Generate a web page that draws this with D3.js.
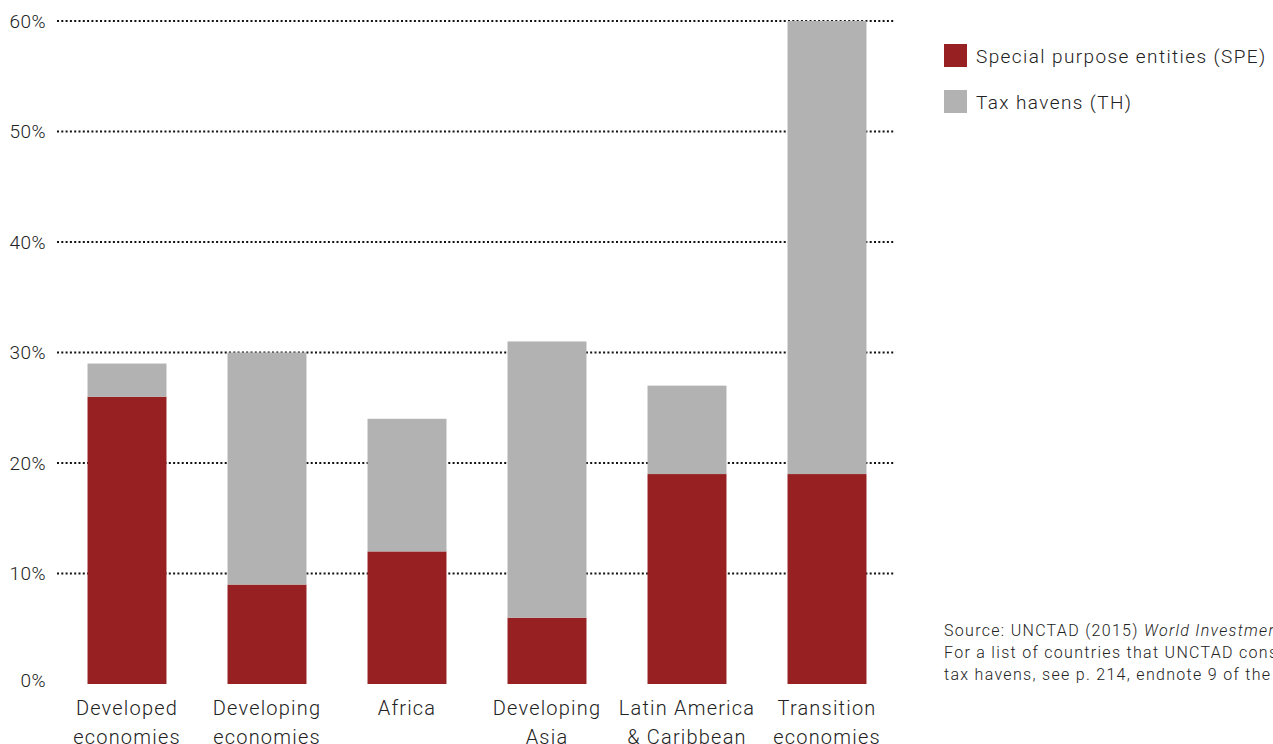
<!DOCTYPE html>
<html>
<head>
<meta charset="utf-8">
<script src="https://cdn.jsdelivr.net/npm/d3@7"></script>
<style>
  body { margin: 0; background: #fff; }
  text { font-family: Roboto, "DejaVu Sans", sans-serif; font-weight: 300; fill: #222; }
</style>
</head>
<body>
<div id="chart"></div>
<script>
const width = 1273;
const height = 744;

// data
var categories = [
  ["Developed", "economies"],
  ["Developing", "economies"],
  ["Africa"],
  ["Developing", "Asia"],
  ["Latin America", "& Caribbean"],
  ["Transition", "economies"]
];
var spe = [26, 9, 12, 6, 19, 19];
var th = [3, 21, 12, 25, 8, 41];
var yTicks = [0, 10, 20, 30, 40, 50, 60];
var seriesNames = ["Special purpose entities (SPE)", "Tax havens (TH)"];
var colors = ["#972122", "#b2b2b2"];

var rows = categories.map((c, i) => ({i: i, spe: spe[i], th: th[i]}));

var svg = d3.select("#chart").append("svg")
  .attr("width", width).attr("height", height);

var x = d3.scaleBand()
  .domain(d3.range(categories.length))
  .range([57, 897])
  .paddingInner(0.436)
  .paddingOuter(0.218);

var y = d3.scaleLinear().domain([0, 60]).range([684, 21]);

// gridlines
svg.append("g").selectAll("line")
  .data(yTicks.filter(t => t > 0))
  .enter().append("line")
  .attr("x1", 57).attr("x2", 894)
  .attr("y1", d => y(d)).attr("y2", d => y(d))
  .attr("stroke", "#111")
  .attr("stroke-width", 2)
  .attr("stroke-dasharray", "2,2.3");

// y axis labels
svg.append("g").selectAll("text")
  .data(yTicks)
  .enter().append("text")
  .attr("x", 46)
  .attr("y", d => d === 0 ? y(d) - 4 : y(d))
  .attr("dy", "0.35em")
  .attr("text-anchor", "end")
  .style("font-size", "19px")
  .style("letter-spacing", "0.5px")
  .text(d => d + "%");

// stacked bars
var stack = d3.stack().keys(["spe", "th"])(rows);

svg.append("g").selectAll("g")
  .data(stack)
  .enter().append("g")
  .attr("fill", (d, i) => colors[i])
  .selectAll("rect")
  .data(d => d)
  .enter().append("rect")
  .attr("x", d => x(d.data.i))
  .attr("width", x.bandwidth())
  .attr("y", d => y(d[1]))
  .attr("height", d => y(d[0]) - y(d[1]));

// x labels
var xl = svg.append("g").selectAll("text")
  .data(categories)
  .enter().append("text")
  .attr("x", (d, i) => x(i) + x.bandwidth() / 2)
  .attr("y", 715)
  .attr("text-anchor", "middle")
  .style("font-size", "20px")
  .style("letter-spacing", "1.2px");

xl.selectAll("tspan")
  .data(d => d)
  .enter().append("tspan")
  .attr("x", function() { return this.parentNode.getAttribute("x"); })
  .attr("dy", (d, i) => i === 0 ? 0 : 29)
  .text(d => d);

// legend
var lg = svg.append("g").selectAll("g")
  .data(seriesNames)
  .enter().append("g")
  .attr("transform", (d, i) => "translate(944," + (44 + i * 46) + ")");

lg.append("rect")
  .attr("width", 23).attr("height", 23)
  .attr("fill", (d, i) => colors[i]);

lg.append("text")
  .attr("x", 32).attr("y", 12)
  .attr("dy", "0.35em")
  .style("font-size", "19px")
  .style("letter-spacing", "1.4px")
  .text(d => d);

// source note
var note = svg.append("text")
  .attr("x", 944).attr("y", 636)
  .style("font-size", "16px")
  .style("letter-spacing", "1.3px");

var l1 = note.append("tspan").attr("x", 944);
l1.append("tspan").text("Source: UNCTAD (2015) ");
l1.append("tspan").style("font-style", "italic").text("World Investment Report 2015");
note.append("tspan").attr("x", 944).attr("dy", 22)
  .text("For a list of countries that UNCTAD considers");
note.append("tspan").attr("x", 944).attr("dy", 22)
  .text("tax havens, see p. 214, endnote 9 of the report.");
</script>
</body>
</html>
